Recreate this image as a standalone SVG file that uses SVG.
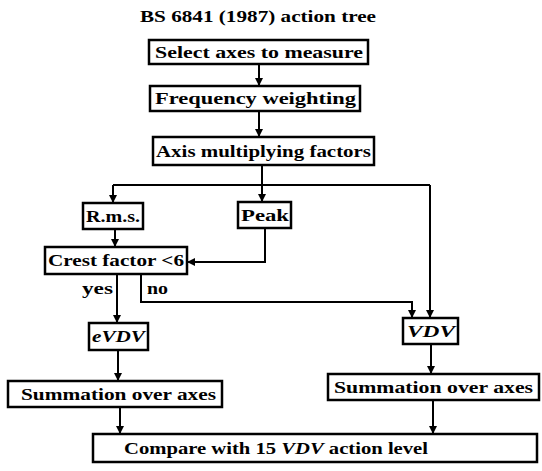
<svg xmlns="http://www.w3.org/2000/svg" width="542" height="471" viewBox="0 0 542 471">
<defs>
<marker id="ah" viewBox="0 0 10 10" refX="10" refY="5" markerWidth="8" markerHeight="8" markerUnits="userSpaceOnUse" orient="auto">
<path d="M0,0 L10,5 L0,10 z" fill="#000"/>
</marker>
<style>
.box{fill:#fff;stroke:#000;stroke-width:2.5}
.t{font-family:"Liberation Serif","DejaVu Serif",serif;font-weight:bold;font-size:17px;fill:#000}
.i{font-style:italic}
.c{fill:none;stroke:#000;stroke-width:2}
.a{marker-end:url(#ah)}
</style>
</defs>
<rect width="542" height="471" fill="#fff"/>
<text class="t" x="140" y="22" textLength="236" lengthAdjust="spacingAndGlyphs">BS 6841 (1987) action tree</text>
<g id="connectors">
<path class="c a" d="M259 64 V86"/>
<path class="c a" d="M259 111 V137"/>
<path class="c a" d="M262 165 V202"/>
<path class="c a" d="M113 185 V203"/>
<path class="c" d="M113 185 H430"/>
<path class="c a" d="M430 185 V318"/>
<path class="c a" d="M115 229 V247"/>
<path class="c a" d="M265 228 V262 H187"/>
<path class="c a" d="M117 274 V323"/>
<path class="c a" d="M141 274 V302 H412 V318"/>
<path class="c a" d="M118 350 V381"/>
<path class="c a" d="M431 344 V374"/>
<path class="c a" d="M120 407 V434"/>
<path class="c a" d="M433 400 V434"/>
<text class="t" x="82" y="294" textLength="31" lengthAdjust="spacingAndGlyphs">yes</text>
<text class="t" x="147" y="294" textLength="21" lengthAdjust="spacingAndGlyphs">no</text>
</g>
<g id="n1"><rect class="box" x="149" y="40" width="219" height="24"/><text class="t" x="155" y="58" textLength="208" lengthAdjust="spacingAndGlyphs">Select axes to measure</text></g>
<g id="n2"><rect class="box" x="150" y="86" width="210" height="25"/><text class="t" x="155" y="104" textLength="201" lengthAdjust="spacingAndGlyphs">Frequency weighting</text></g>
<g id="n3"><rect class="box" x="153" y="137" width="221" height="28"/><text class="t" x="156" y="157" textLength="215" lengthAdjust="spacingAndGlyphs">Axis multiplying factors</text></g>
<g id="n4"><rect class="box" x="83" y="203" width="60" height="26"/><text class="t" x="86" y="222" textLength="54" lengthAdjust="spacingAndGlyphs">R.m.s.</text></g>
<g id="n5"><rect class="box" x="238" y="202" width="53" height="26"/><text class="t" x="241" y="221" textLength="48" lengthAdjust="spacingAndGlyphs">Peak</text></g>
<g id="n6"><rect class="box" x="45" y="247" width="142" height="27"/><text class="t" x="48" y="266" textLength="136" lengthAdjust="spacingAndGlyphs">Crest factor &lt;6</text></g>
<g id="n7"><rect class="box" x="89" y="323" width="59" height="27"/><text class="t i" x="92" y="342" textLength="53" lengthAdjust="spacingAndGlyphs">eVDV</text></g>
<g id="n8"><rect class="box" x="403" y="318" width="55" height="26"/><text class="t i" x="407" y="337" textLength="48" lengthAdjust="spacingAndGlyphs">VDV</text></g>
<g id="n9"><rect class="box" x="8" y="381" width="214" height="26"/><text class="t" x="21" y="400" textLength="195" lengthAdjust="spacingAndGlyphs">Summation over axes</text></g>
<g id="n10"><rect class="box" x="328" y="374" width="211" height="26"/><text class="t" x="334" y="393" textLength="199" lengthAdjust="spacingAndGlyphs">Summation over axes</text></g>
<g id="n11"><rect class="box" x="93" y="434" width="444" height="28"/><text class="t" x="124" y="454" textLength="304" lengthAdjust="spacingAndGlyphs">Compare with 15 <tspan class="i">VDV</tspan> action level</text></g>
</svg>
